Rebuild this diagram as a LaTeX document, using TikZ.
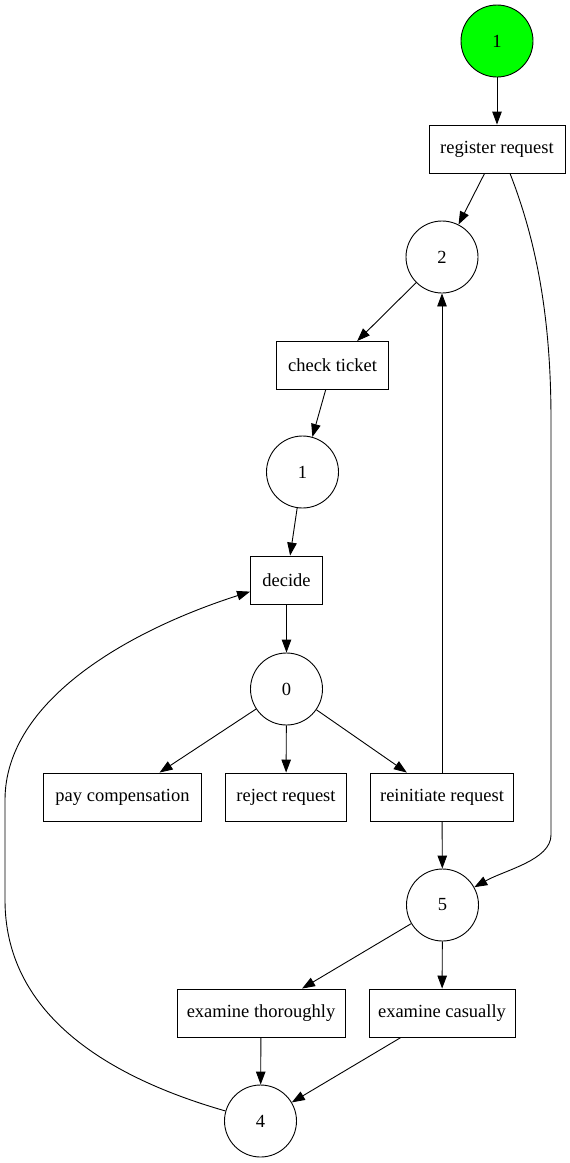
\documentclass[tikz,border=0pt]{standalone}
\usepackage{fontspec}
\setmainfont{Liberation Serif}
\usetikzlibrary{arrows.meta}
\definecolor{tokengreen}{HTML}{00FF00}
\begin{document}
\begin{tikzpicture}[x=1pt,y=-1pt,
  every node/.style={font=\fontsize{18.5}{22}\selectfont, inner sep=0pt, line width=0.9pt, draw=black},
  place/.style={circle, minimum size=72pt},
  trans/.style={rectangle, minimum height=48pt},
  arr/.style={-{Triangle[length=13pt,width=9.5pt]}, line width=0.9pt}]
\useasboundingbox (0,0) rectangle (570,1163);

% places and transitions
\node[place, fill=tokengreen] (src) at (497,41) {1};
\node[trans, minimum width=136pt] (rr) at (497,149) {register request};
\node[place] (p2) at (442,257) {2};
\node[trans, minimum width=112pt] (ct) at (332.5,365.5) {check ticket};
\node[place] (p1) at (302.5,472) {1};
\node[trans, minimum width=72pt] (dc) at (286.5,580) {decide};
\node[place] (p0) at (286.5,689) {0};
\node[trans, minimum width=158pt] (pc) at (122.5,797) {pay compensation};
\node[trans, minimum width=121pt] (rj) at (286,797) {reject request};
\node[trans, minimum width=143pt] (ri) at (442,797) {reinitiate request};
\node[place] (p5) at (442.5,905) {5};
\node[trans, minimum width=168pt] (et) at (261,1013) {examine thoroughly};
\node[trans, minimum width=146pt] (ec) at (442,1013) {examine casually};
\node[place] (p4) at (260.5,1121) {4};

% arcs
\draw[arr] (src) -- (rr);
\draw[arr] (rr) -- (p2);
\draw[arr] (p2) -- (ct);
\draw[arr] (ct) -- (p1);
\draw[arr] (p1) -- (dc);
\draw[arr] (dc) -- (p0);
\draw[arr] (p0) -- (pc);
\draw[arr] (p0) -- (rj);
\draw[arr] (p0) -- (ri);
\draw[arr] (ri.north) -- (p2.south);
\draw[arr] (ri) -- (p5);
\draw[arr] (p5) -- (et);
\draw[arr] (p5) -- (ec);
\draw[arr] (et) -- (p4);
\draw[arr] (ec) -- (p4);
\draw[arr] ([xshift=13pt]rr.south) .. controls (540,250) and (551,330) .. (551,420)
  -- (551,835) .. controls (551,860) and (505,870) .. (p5);
\draw[arr] (p4) .. controls (100,1075) and (5,1010) .. (5,900)
  -- (5,800) .. controls (5,700) and (130,630) .. (dc);
\end{tikzpicture}
\end{document}
